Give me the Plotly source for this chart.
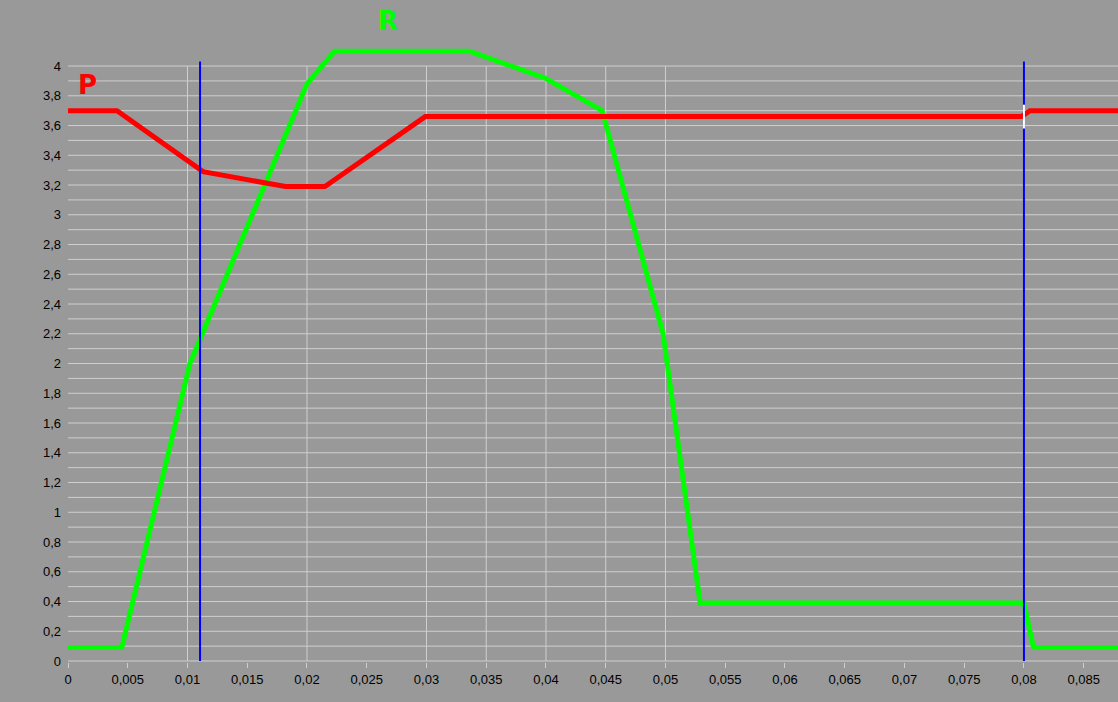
import plotly.graph_objects as go

# ---- data ----
r_x = [0.0, 0.0045, 0.0102, 0.0200, 0.0223, 0.0336, 0.0399, 0.0447, 0.0498, 0.0529, 0.0800, 0.0808, 0.0880]
r_y = [0.09, 0.09, 2.00, 3.88, 4.10, 4.10, 3.92, 3.70, 2.20, 0.39, 0.39, 0.09, 0.09]

p_x = [0.0, 0.0041, 0.0113, 0.0182, 0.0215, 0.0299, 0.0798, 0.0805, 0.0880]
p_y = [3.70, 3.70, 3.29, 3.19, 3.19, 3.66, 3.66, 3.70, 3.70]

cursor_x = [0.01105, 0.0800]
cursor_y_top = 4.03

marker_x = [0.0800, 0.0800]
marker_y = [3.58, 3.74]

x_ticks = [0, 0.005, 0.01, 0.015, 0.02, 0.025, 0.03, 0.035, 0.04, 0.045, 0.05,
           0.055, 0.06, 0.065, 0.07, 0.075, 0.08, 0.085]
x_labels = ["0", "0,005", "0,01", "0,015", "0,02", "0,025", "0,03", "0,035", "0,04",
            "0,045", "0,05", "0,055", "0,06", "0,065", "0,07", "0,075", "0,08", "0,085"]
x_grid = [0.01, 0.02, 0.03, 0.035, 0.04, 0.045, 0.05]
y_ticks = [0, 0.2, 0.4, 0.6, 0.8, 1, 1.2, 1.4, 1.6, 1.8, 2, 2.2, 2.4, 2.6, 2.8, 3,
           3.2, 3.4, 3.6, 3.8, 4]
y_labels = ["0", "0,2", "0,4", "0,6", "0,8", "1", "1,2", "1,4", "1,6", "1,8", "2",
            "2,2", "2,4", "2,6", "2,8", "3", "3,2", "3,4", "3,6", "3,8", "4"]
y_grid = [i / 10 for i in range(0, 41)]

X_MAX = 0.08787
Y_MIN, Y_MAX = -0.0067, 4.444
BG = "#999999"
GRID = "#cfcfcf"

fig = go.Figure()

shapes = []
for gy in y_grid:
    shapes.append(dict(type="line", xref="x", yref="y", x0=0, x1=X_MAX, y0=gy, y1=gy,
                       line=dict(color=GRID, width=1), layer="below"))
for gx in x_grid:
    shapes.append(dict(type="line", xref="x", yref="y", x0=gx, x1=gx, y0=0, y1=4,
                       line=dict(color=GRID, width=1), layer="below"))

fig.add_trace(go.Scatter(x=r_x, y=r_y, mode="lines", line=dict(color="#00ff00", width=5),
                         hoverinfo="skip"))
fig.add_trace(go.Scatter(x=p_x, y=p_y, mode="lines", line=dict(color="#ff0000", width=5),
                         hoverinfo="skip"))
for cx in cursor_x:
    fig.add_trace(go.Scatter(x=[cx, cx], y=[0, cursor_y_top], mode="lines",
                             line=dict(color="#0000ff", width=2), hoverinfo="skip"))
fig.add_trace(go.Scatter(x=marker_x, y=marker_y, mode="lines",
                         line=dict(color="#ffffff", width=2), hoverinfo="skip"))

fig.add_annotation(x=0.00167, y=3.87, xref="x", yref="y", text="<b>P</b>", showarrow=False,
                   font=dict(family="DejaVu Sans", size=26, color="#ff0000"))
fig.add_annotation(x=0.02678, y=4.30, xref="x", yref="y", text="<b>R</b>", showarrow=False,
                   font=dict(family="DejaVu Sans", size=26, color="#00ff00"))

fig.update_layout(
    width=1118, height=702,
    margin=dict(l=68, r=0, t=0, b=40),
    paper_bgcolor=BG, plot_bgcolor=BG,
    showlegend=False,
    shapes=shapes,
    font=dict(family="Liberation Sans, Arial", size=13, color="#000000"),
    xaxis=dict(range=[0, X_MAX], tickvals=x_ticks, ticktext=x_labels, showgrid=False,
               zeroline=False, showline=False, ticks="outside", ticklen=5,
               tickcolor=GRID, tickfont=dict(size=13, color="#000000")),
    yaxis=dict(range=[Y_MIN, Y_MAX], tickvals=y_ticks, ticktext=y_labels, showgrid=False,
               zeroline=False, showline=False, ticks="", ticklabelstandoff=6,
               tickfont=dict(size=13, color="#000000")),
)

fig.write_html("out.html", config={"displayModeBar": False},
               post_script="document.body.style.margin='0';document.body.style.background='#999999';")
